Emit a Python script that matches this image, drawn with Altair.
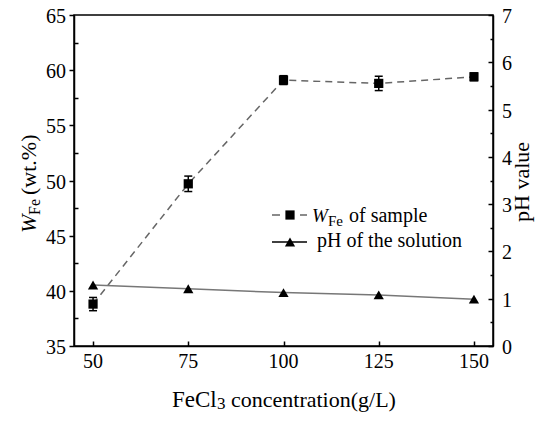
import altair as alt
import pandas as pd

# ---- data ----
conc = [50, 75, 100, 125, 150]
wfe = [38.8, 49.7, 59.1, 58.8, 59.4]
wfe_err = [0.6, 0.7, 0.4, 0.65, 0.35]
ph = [1.29, 1.21, 1.13, 1.08, 0.99]

x_ticks = [50, 75, 100, 125, 150]
left_major = [35, 40, 45, 50, 55, 60, 65]
left_ticks = [35, 37.5, 40, 42.5, 45, 47.5, 50, 52.5, 55, 57.5, 60, 62.5, 65]
right_major = [0, 1, 2, 3, 4, 5, 6, 7]
right_ticks = [0, 0.5, 1, 1.5, 2, 2.5, 3, 3.5, 4, 4.5, 5, 5.5, 6, 6.5, 7]

legend_labels = ["of  sample", "pH of the solution"]

FONT = "Liberation Serif"
W, H = 419, 331

df = pd.DataFrame({
    "c": conc,
    "w": wfe,
    "lo": [a - b for a, b in zip(wfe, wfe_err)],
    "hi": [a + b for a, b in zip(wfe, wfe_err)],
    "ph": ph,
})

common = dict(grid=False, title=None, labels=False,
              domainColor="black", domainWidth=1.5, tickColor="black", tickWidth=1.5)

xs = alt.Scale(domain=[45, 155], nice=False, zero=False)
x_axis = alt.Axis(values=x_ticks, tickSize={"expr": "-5"}, **common)
X = alt.X("c:Q", scale=xs, axis=x_axis)

ys_left = alt.Scale(domain=[35, 65], nice=False, zero=False)
left_axis = alt.Axis(values=left_ticks,
                     tickSize={"expr": "datum.value % 5 === 0 ? 5 : -4"}, **common)

ys_right = alt.Scale(domain=[0, 7], nice=False, zero=False)
right_axis = alt.Axis(values=right_ticks, orient="right",
                      tickSize={"expr": "datum.value % 1 === 0 ? -5 : -3"}, **common)

base = alt.Chart(df)


def YL(f):
    return alt.Y(f, scale=ys_left, axis=left_axis)


def YR(f):
    return alt.Y(f, scale=ys_right, axis=right_axis)


w_line = base.mark_line(color="#666666", strokeWidth=1.5, strokeDash=[7, 5]).encode(x=X, y=YL("w:Q"))
err_rule = base.mark_rule(color="black", strokeWidth=1.5).encode(x=X, y=YL("lo:Q"), y2="hi:Q")
cap_lo = base.mark_tick(color="black", thickness=1.5, size=8, orient="horizontal", opacity=1).encode(
    x=X, y=YL("lo:Q"))
cap_hi = base.mark_tick(color="black", thickness=1.5, size=8, orient="horizontal", opacity=1).encode(
    x=X, y=YL("hi:Q"))
w_pts = base.mark_point(shape="square", filled=True, size=85, color="black", opacity=1).encode(
    x=X, y=YL("w:Q"))

ph_line = base.mark_line(color="#777777", strokeWidth=1.5).encode(x=X, y=YR("ph:Q"))
ph_pts = base.mark_point(shape="triangle-up", filled=True, size=105, color="black", opacity=1).encode(
    x=X, y=YR("ph:Q"))

# tick labels (serif), positioned through the chart's own scales
xl = pd.DataFrame({"c": x_ticks, "t": [str(v) for v in x_ticks]})
ll = pd.DataFrame({"v": left_major, "t": [str(v) for v in left_major]})
rl = pd.DataFrame({"v": right_major, "t": [str(v) for v in right_major]})

x_labels = alt.Chart(xl).mark_text(font=FONT, fontSize=20, align="center", baseline="alphabetic",
                                   color="black").encode(x=X, y=alt.value(H + 22), text="t:N")
l_labels = alt.Chart(ll).mark_text(font=FONT, fontSize=20, align="right", baseline="alphabetic",
                                   dy=8, color="black").encode(x=alt.value(-8), y=YL("v:Q"), text="t:N")
r_labels = alt.Chart(rl).mark_text(font=FONT, fontSize=20, align="left", baseline="alphabetic",
                                   dy=8, color="black").encode(x=alt.value(W + 9), y=YR("v:Q"), text="t:N")

one = pd.DataFrame({"k": [0]})


def txt(s, x, y, size, angle=0, italic=False, baseline="alphabetic"):
    return alt.Chart(one).mark_text(
        text=s, font=FONT, fontSize=size, angle=angle, align="left", baseline=baseline,
        fontStyle="italic" if italic else "normal", color="black"
    ).encode(x=alt.value(x), y=alt.value(y))


titles = [
    # left axis title  W_Fe (wt.%)
    txt("W", -38, 218, 22, angle=270, italic=True),
    txt("Fe", -34, 200, 16, angle=270),
    txt("(wt.%)", -38, 180, 22, angle=270),
    # right axis title
    txt("pH value", 455, 207, 22, angle=270),
    # x title FeCl3 concentration(g/L)
    txt("FeCl", 98, 392, 23),
    txt("3", 143, 394, 17),
    txt("concentration(g/L)", 157, 392, 22),
    # legend texts
    txt("W", 238, 207, 19, italic=True),
    txt("Fe", 254, 211, 15),
    txt(legend_labels[0], 275, 207, 20),
    txt(legend_labels[1], 243, 232, 20),
]

leg1_line = alt.Chart(one).mark_rule(color="#666666", strokeWidth=1.5, strokeDash=[8, 6]).encode(
    x=alt.value(198), x2=alt.value(233), y=alt.value(200))
leg1_pt = alt.Chart(one).mark_point(shape="square", filled=True, size=85, color="black", opacity=1).encode(
    x=alt.value(216), y=alt.value(200))
leg2_line = alt.Chart(one).mark_rule(color="black", strokeWidth=1.5).encode(
    x=alt.value(198), x2=alt.value(233), y=alt.value(227))
leg2_pt = alt.Chart(one).mark_point(shape="triangle-up", filled=True, size=105, color="black", opacity=1).encode(
    x=alt.value(216), y=alt.value(227))

left_layer = alt.layer(w_line, err_rule, cap_lo, cap_hi, w_pts, x_labels, l_labels, *titles,
                       leg1_line, leg1_pt, leg2_line, leg2_pt)
right_layer = alt.layer(ph_line, ph_pts, r_labels)

chart = alt.layer(left_layer, right_layer).resolve_scale(y="independent").properties(
    width=W, height=H,
    autosize=alt.AutoSizeParams(type="none"),
    padding={"left": 66, "top": 7, "right": 42, "bottom": 67},
    background="white",
).configure(font=FONT).configure_view(stroke="black", strokeWidth=1.5)

chart.save("out.html", embed_options={"renderer": "svg", "actions": False})
